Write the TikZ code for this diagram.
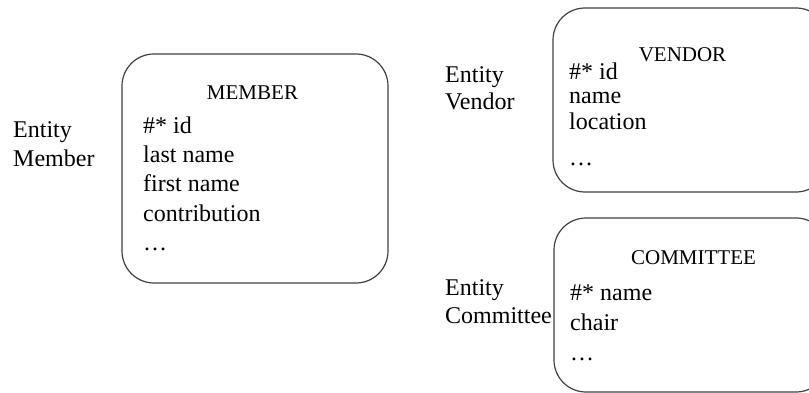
\documentclass[tikz,border=0pt]{standalone}
\usepackage{fontspec}
\setmainfont{Liberation Serif}
\usepackage{tikz}
\usepackage{xcolor}

\tikzset{
  entbox/.style={draw=black!75,line width=1.2pt,rounded corners=32pt,inner sep=0pt},
  enttitle/.style={anchor=base,inner sep=0pt,font=\fontsize{21}{25}\selectfont},
  attr/.style={anchor=base west,inner sep=0pt,font=\fontsize{24}{29}\selectfont},
}

\begin{document}
\begin{tikzpicture}[x=1pt,y=-1pt]
\useasboundingbox (0,0) rectangle (809,393);
\clip (0,0) rectangle (809,393);
% member
\node[attr] (memlab1) at (13,138) {Entity};
\node[attr] (memlab2) at (13,167) {Member};
\node[entbox,minimum width=266pt,minimum height=229pt] (member) at (255,168.5) {};
\node[enttitle] (memtitle) at (252.5,100) {MEMBER};
\node[attr] (mem1) at (143,134) {\#* id};
\node[attr] (mem2) at (143,163) {last name};
\node[attr] (mem3) at (143,192) {first name};
\node[attr] (mem4) at (143,222) {contribution};
\node[attr] (mem5) at (143,251) {\dots};
% vendor
\node[attr] (venlab1) at (445,83) {Entity};
\node[attr] (venlab2) at (445,110) {Vendor};
\node[entbox,minimum width=275pt,minimum height=184pt] (vendor) at (690.5,100) {};
\node[enttitle] (ventitle) at (682.5,62) {VENDOR};
\node[attr] (ven1) at (569,80) {\#* id};
\node[attr] (ven2) at (569,104) {name};
\node[attr] (ven3) at (569,130) {location};
\node[attr] (ven4) at (569,166) {\dots};
% committee
\node[attr] (comlab1) at (445,295) {Entity};
\node[attr] (comlab2) at (445,323) {Committee};
\node[entbox,minimum width=274pt,minimum height=174pt] (committee) at (691,305) {};
\node[enttitle] (comtitle) at (693.5,264) {COMMITTEE};
\node[attr] (com1) at (570,300) {\#* name};
\node[attr] (com2) at (570,330) {chair};
\node[attr] (com3) at (570,360) {\dots};
\end{tikzpicture}
\end{document}
